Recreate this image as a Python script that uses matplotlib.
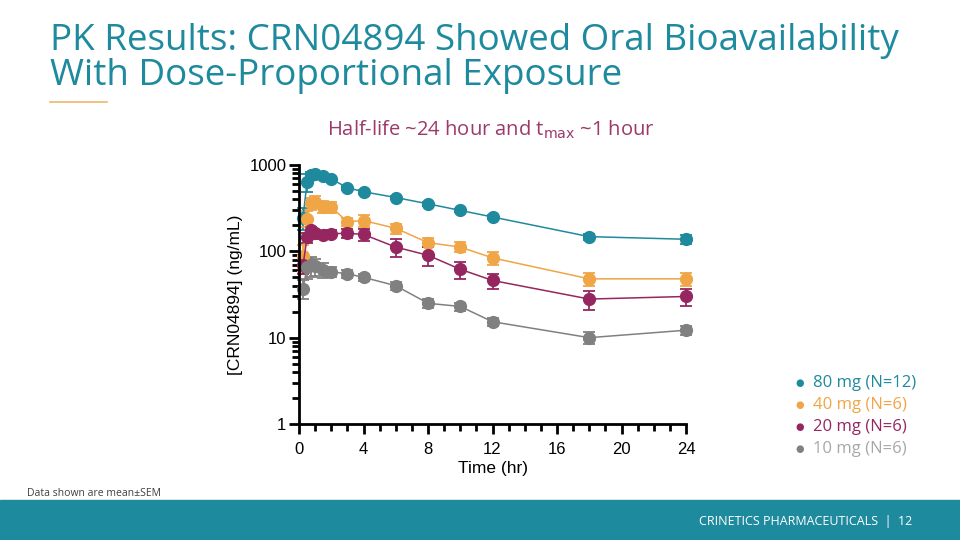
import matplotlib.pyplot as plt
import numpy as np
from matplotlib.ticker import FixedLocator, NullFormatter, MultipleLocator

# time points (hr)
t = [0.25, 0.5, 0.75, 1, 1.5, 2, 3, 4, 6, 8, 10, 12, 18, 24]

# mean concentration (ng/mL) and SEM per dose
mean_80 = [245, 640, 760, 790, 740, 690, 545, 490, 420, 355, 298, 250, 148, 138]
sem_80 = [70, 150, 60, 50, 40, 35, 30, 25, 20, 20, 15, 12, 12, 15]
mean_40 = [88, 240, 360, 375, 330, 325, 220, 227, 185, 126, 112, 84, 48, 48]
sem_40 = [30, 50, 60, 60, 50, 45, 25, 35, 25, 15, 15, 14, 8, 8]
mean_20 = [69, 145, 177, 162, 155, 160, 162, 157, 112, 90, 62, 46, 28, 30]
sem_20 = [15, 20, 15, 15, 15, 15, 20, 25, 27, 22, 14, 9, 7, 7]
mean_10 = [37, 66, 69, 67, 61, 58, 55, 50, 40, 25, 23, 15.3, 10, 12.2]
sem_10 = [9, 18, 18, 15, 12, 8, 6, 5, 4, 3, 2.5, 1.6, 1.5, 1.5]

labels = ['80 mg (N=12)', '40 mg (N=6)', '20 mg (N=6)', '10 mg (N=6)']
colors = ['#1F8A9E', '#F0A546', '#962660', '#808080']
text_colors = ['#1F8A9E', '#F0A546', '#962660', '#A8A8A8']

teal = '#1E8A9E'
title_font = ['Open Sans', 'DejaVu Sans']

fig = plt.figure(figsize=(9.6, 5.4), dpi=100)

# title
fig.text(50/960, 1-41/540, 'PK Results: CRN04894 Showed Oral Bioavailability',
         color=teal, fontsize=26.5, family=title_font, va='center', ha='left')
fig.text(50/960, 1-76/540, 'With Dose-Proportional Exposure',
         color=teal, fontsize=26.5, family=title_font, va='center', ha='left')
fig.add_artist(plt.Line2D([50/960, 107/960], [1-102/540, 1-102/540],
                          color='#EDB66E', lw=1.2, transform=fig.transFigure))

fig.text(491/960, 1-130/540, 'Half-life ~24 hour and t$_{\\mathrm{max}}$ ~1 hour',
         color='#9B3A6B', fontsize=14.5, family=title_font, ha='center', va='center')

# footer
fig.patches.append(plt.Rectangle((0, 0), 1, 40/540, transform=fig.transFigure,
                                 color=teal, zorder=0))
fig.text(912/960, 1-521/540, 'CRINETICS PHARMACEUTICALS  |  12', color='white',
         fontsize=9, family=title_font, ha='right', va='center')
fig.text(27/960, 1-493/540, 'Data shown are mean\u00b1SEM', color='#404040',
         fontsize=7.5, family=title_font, ha='left', va='center')

ax = fig.add_axes([299/960, 1-424/540, 387/960, 259/540])
series = [(mean_80, sem_80), (mean_40, sem_40), (mean_20, sem_20), (mean_10, sem_10)]
for (m, s), c in zip(series, colors):
    m = np.array(m)
    s = np.array(s)
    lower = np.minimum(s, m * 0.9)
    ax.errorbar(t, m, yerr=[lower, s], color=c, marker='o', markersize=8.5,
                lw=1.1, capsize=4, elinewidth=1.3, capthick=1.3, clip_on=False)

ax.set_yscale('log')
ax.set_ylim(1, 1000)
ax.set_xlim(0, 24)
ax.set_yticks([1, 10, 100, 1000])
ax.set_yticklabels(['1', '10', '100', '1000'])
ax.yaxis.set_minor_locator(FixedLocator([k * 10**e for e in range(0, 3) for k in range(2, 10)]))
ax.yaxis.set_minor_formatter(NullFormatter())
ax.xaxis.set_major_locator(MultipleLocator(4))
ax.xaxis.set_minor_locator(MultipleLocator(1))

for side in ['top', 'right']:
    ax.spines[side].set_visible(False)
for side in ['left', 'bottom']:
    ax.spines[side].set_linewidth(2)
ax.tick_params(which='major', length=7, width=2, labelsize=12, pad=2)
ax.tick_params(which='minor', length=5, width=2)
ax.tick_params(axis='x', which='major', pad=6)
for lab in ax.get_xticklabels() + ax.get_yticklabels():
    lab.set_family('Liberation Sans')

ax.set_xlabel('Time (hr)', fontsize=12.5, family='Liberation Sans', labelpad=3)
ax.set_ylabel('[CRN04894] (ng/mL)', fontsize=12.5, family='Liberation Sans', labelpad=5)

# legend as colored text
for i, (lab, c, tc) in enumerate(zip(labels, colors, text_colors)):
    y = 1 - (383 + 22 * i) / 540
    fig.text(800/960, y, '\u25cf', color=c, fontsize=7, ha='center', va='center')
    fig.text(813/960, y, lab, color=tc, fontsize=12, family=title_font,
             ha='left', va='center')

fig.savefig('out.png', dpi=100)
